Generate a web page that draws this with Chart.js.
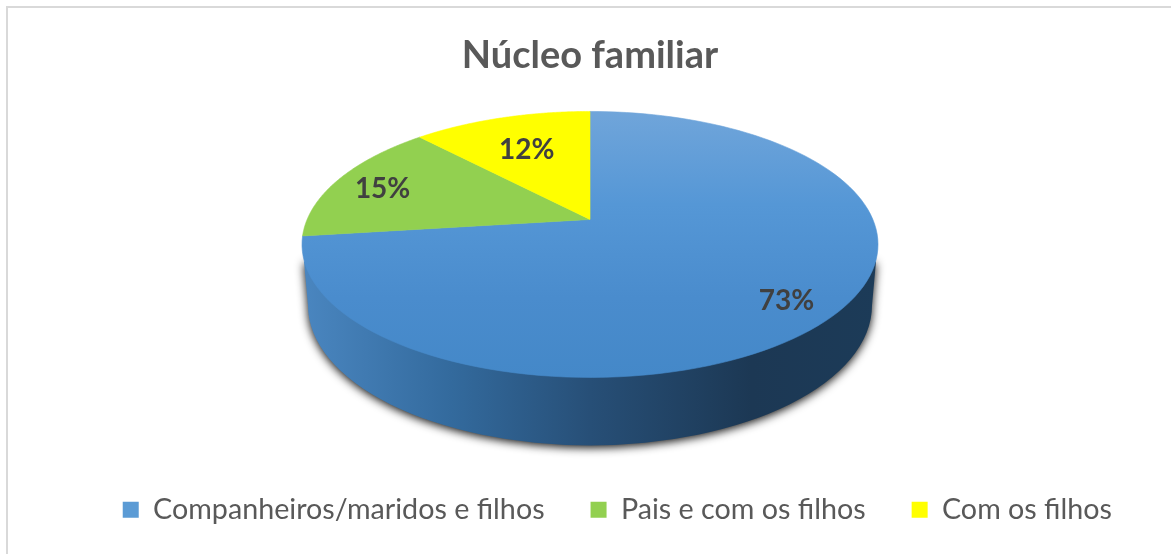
<!DOCTYPE html>
<html>
<head>
<meta charset="utf-8">
<title>Núcleo familiar</title>
<script src="https://cdn.jsdelivr.net/npm/chart.js@4/dist/chart.umd.min.js"></script>
<style>
    html, body { margin: 0; padding: 0; background: #fff; }
    canvas { display: block; }
</style>
</head>
<body>
<canvas id="pieChart" width="1171" height="554"></canvas>
<script>
const categories = ['Companheiros/maridos e filhos', 'Pais e com os filhos', 'Com os filhos'];
const shares = [73, 15, 12];
const sliceColors = ['#5b9bd5', '#92d050', '#ffff00'];

// how far along each slice's radius its label sits
const labelRadius = [0.83, 0.82, 0.68];

const squash = 133 / 288;   // height of the tilted disc / width
const persp = -0.188;       // pie centre sits above the ellipse centre in the 3D view

// angle on the flat pie -> point on the tilted disc
function project(arc, angle, f) {
    const x = f * Math.cos(angle);
    const y = f * Math.sin(angle);
    const d = 1 + persp * y;
    return {
        x: arc.x + arc.outerRadius * x * Math.sqrt(1 - persp * persp) / d,
        y: arc.y + arc.outerRadius * squash * (y + persp) / d
    };
}

function drawWall(ctx, arc) {
    const cx = arc.x, cy = arc.y;
    const wall = ctx.createLinearGradient(cx - 288, 0, cx + 288, 0);
    wall.addColorStop(0, '#4a86c0');
    wall.addColorStop(0.26, '#336a9d');
    wall.addColorStop(0.5, '#274f77');
    wall.addColorStop(0.78, '#1c3854');
    wall.addColorStop(1, '#1c3b58');

    ctx.save();
    ctx.shadowColor = 'rgba(0, 0, 0, 0.95)';
    ctx.shadowBlur = 10;
    ctx.shadowOffsetY = 2;
    ctx.fillStyle = wall;
    ctx.beginPath();
    ctx.moveTo(cx + 286, cy + 17);
    ctx.lineTo(cx + 282, cy + 61);
    ctx.ellipse(cx, cy + 61, 282, 140, 0, 0, Math.PI);
    ctx.lineTo(cx - 286, cy + 17);
    ctx.closePath();
    ctx.fill();
    ctx.restore();
}

const pie3d = {
    id: 'pie3d',
    beforeDraw(chart) {
        // chart frame only has a top and left edge in the picture
        const ctx = chart.ctx;
        ctx.save();
        ctx.fillStyle = '#d9d9d9';
        ctx.fillRect(6, 6, chart.width - 6, 2);
        ctx.fillRect(6, 6, 2, chart.height - 6);
        ctx.restore();
    },
    beforeDatasetDraw(chart) {
        const ctx = chart.ctx;
        const arcs = chart.getDatasetMeta(0).data;
        drawWall(ctx, arcs[0]);

        const top = ctx.createLinearGradient(0, arcs[0].y - 133, 0, arcs[0].y + 133);
        top.addColorStop(0, '#70a5da');
        top.addColorStop(0.35, '#5597d6');
        top.addColorStop(0.7, '#4a8ccd');
        top.addColorStop(1, '#4488c8');

        arcs.forEach((arc, i) => {
            const fill = i === 0 ? top : arc.options.backgroundColor;
            const steps = 120;
            const apex = project(arc, 0, 0);
            ctx.beginPath();
            ctx.moveTo(apex.x, apex.y);
            for (let s = 0; s <= steps; s++) {
                const a = arc.startAngle + (arc.endAngle - arc.startAngle) * s / steps;
                const p = project(arc, a, 1);
                ctx.lineTo(p.x, p.y);
            }
            ctx.closePath();
            ctx.fillStyle = fill;
            ctx.fill();
            ctx.strokeStyle = fill;
            ctx.lineWidth = 0.6;
            ctx.stroke();
        });
        return false;
    },
    afterDatasetsDraw(chart) {
        const ctx = chart.ctx;
        ctx.save();
        ctx.font = 'bold 28px Lato';
        ctx.fillStyle = '#404040';
        ctx.textAlign = 'center';
        ctx.textBaseline = 'middle';
        chart.getDatasetMeta(0).data.forEach((arc, i) => {
            const mid = (arc.startAngle + arc.endAngle) / 2;
            const p = project(arc, mid, labelRadius[i]);
            ctx.fillText(shares[i] + '%', p.x, p.y + 3);
        });
        ctx.restore();
    }
};

new Chart(document.getElementById('pieChart'), {
    type: 'pie',
    data: {
        labels: categories,
        datasets: [{
            data: shares,
            backgroundColor: sliceColors,
            borderWidth: 0,
            radius: 288
        }]
    },
    plugins: [pie3d],
    options: {
        responsive: false,
        animation: false,
        layout: { padding: { left: 22, right: 13, top: 0, bottom: 20 } },
        plugins: {
            tooltip: { enabled: false },
            title: {
                display: true,
                text: 'Núcleo familiar',
                color: '#595959',
                font: { family: 'Lato', size: 38, weight: 'bold' },
                padding: { top: 33, bottom: -39 }
            },
            legend: {
                position: 'bottom',
                align: 'end',
                labels: {
                    color: '#595959',
                    font: { family: 'Lato', size: 28.7 },
                    boxWidth: 16,
                    boxHeight: 16,
                    padding: 46
                }
            }
        }
    }
});
</script>
</body>
</html>
